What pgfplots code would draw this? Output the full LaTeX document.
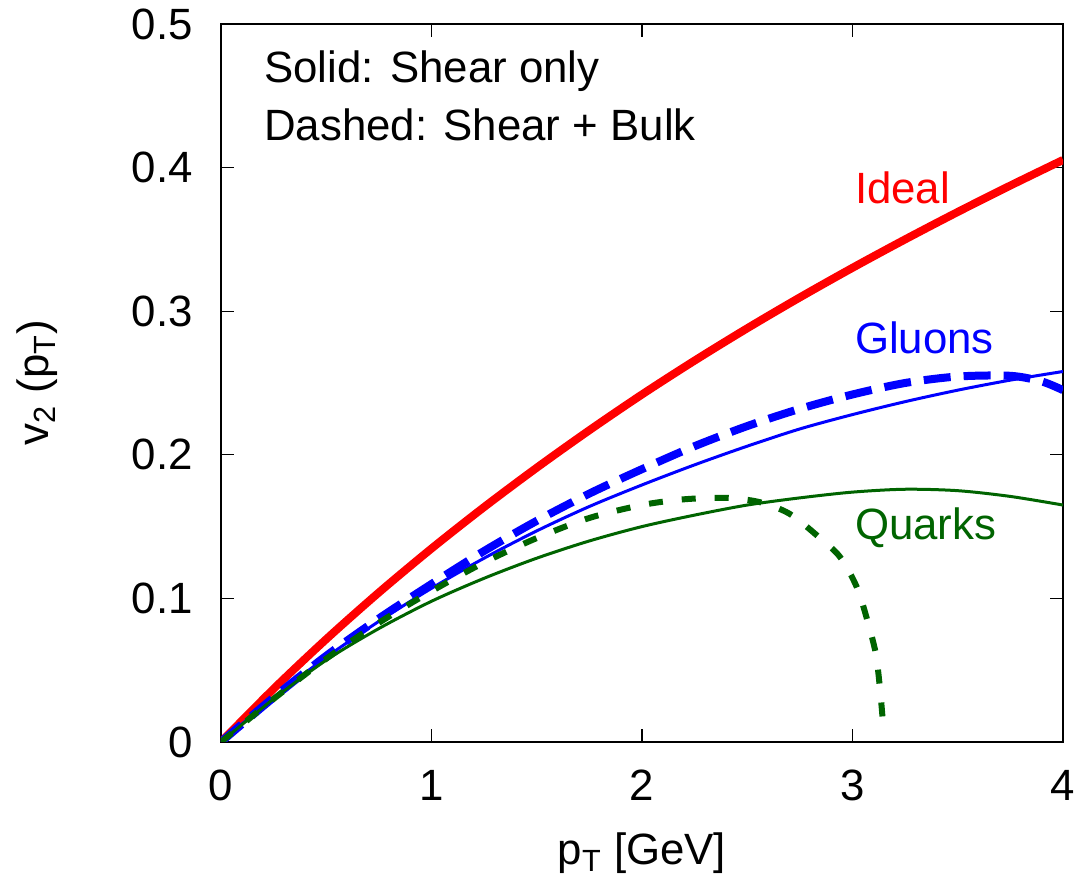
\documentclass[border=0pt]{standalone}
\usepackage{pgfplots}
\pgfplotsset{compat=1.18}
\usepackage{fontspec}
\setmainfont{Liberation Sans}
\definecolor{dgreen}{RGB}{0,100,0}
\newcommand{\ff}{\fontsize{21.9}{26}\selectfont}
\begin{document}
\begin{tikzpicture}
\begin{axis}[
  name=ax,
  scale only axis,
  width=421pt, height=359pt,
  xmin=0, xmax=4, ymin=0, ymax=0.5,
  xtick={0,1,2,3,4},
  ytick={0,0.1,0.2,0.3,0.4,0.5},
  yticklabels={0,0.1,0.2,0.3,0.4,0.5},
  xticklabels={0,1,2,3,4},
  tick align=inside,
  major tick length=6.5pt,
  tick style={black, line width=0.6pt},
  axis line style={line width=1pt},
  xticklabel style={font=\ff, inner sep=0pt, anchor=north, yshift=-14pt},
  yticklabel style={font=\ff, inner sep=0pt, anchor=east, xshift=-14pt},
  xlabel={p\textsubscript{T} [GeV]},
  ylabel={v\textsubscript{2} (p\textsubscript{T})},
  xlabel style={font=\ff, inner sep=0pt, at={(axis description cs:0.5,-0.1713)}, anchor=base},
  ylabel style={font=\ff, inner sep=0pt, at={(axis description cs:-0.218,0.5)}, anchor=center},
  clip=true,
]
% Ideal
\addplot[red, line width=4pt, smooth] coordinates {
(0,0)(0.25,0.0370)(0.5,0.0716)(0.75,0.1041)(1,0.1347)(1.25,0.1636)(1.5,0.1910)(1.75,0.2171)(2,0.2420)(2.25,0.2656)(2.5,0.2881)(2.75,0.3096)(3,0.3302)(3.25,0.3500)(3.5,0.3691)(3.75,0.3875)(4,0.4053)};
% Gluons solid
\addplot[blue, line width=1.5pt, smooth] coordinates {
(0,0)(0.25,0.031)(0.5,0.059)(0.75,0.084)(1,0.107)(1.25,0.128)(1.5,0.147)(1.75,0.164)(2,0.179)(2.25,0.193)(2.5,0.206)(2.75,0.218)(3,0.228)(3.25,0.237)(3.5,0.245)(3.75,0.252)(4,0.258)};
% Gluons dashed
\addplot[blue, line width=4pt, smooth, dash pattern=on 13.5pt off 6.5pt] coordinates {
(0,0)(0.25,0.031)(0.5,0.060)(0.75,0.086)(1,0.110)(1.25,0.133)(1.5,0.154)(1.75,0.173)(2,0.190)(2.25,0.206)(2.5,0.220)(2.75,0.232)(3,0.242)(3.25,0.250)(3.5,0.2545)(3.75,0.255)(3.9,0.251)(4,0.245)};
% Quarks solid
\addplot[dgreen, line width=1.5pt, smooth] coordinates {
(0,0)(0.25,0.030)(0.5,0.057)(0.75,0.079)(1,0.098)(1.25,0.114)(1.5,0.128)(1.75,0.140)(2,0.150)(2.25,0.158)(2.5,0.165)(2.75,0.170)(3,0.174)(3.25,0.176)(3.5,0.175)(3.75,0.171)(4,0.165)};
% Quarks dashed
\addplot[dgreen, line width=3pt, smooth, dash pattern=on 7pt off 9.5pt] coordinates {
(0,0)(0.25,0.030)(0.5,0.058)(0.75,0.083)(1,0.105)(1.25,0.125)(1.5,0.142)(1.75,0.156)(2,0.165)(2.2,0.169)(2.4,0.170)(2.56,0.167)(2.7,0.159)(2.83,0.144)(2.94,0.129)(3.02,0.108)(3.07,0.085)(3.11,0.062)(3.13,0.038)(3.145,0.013)};
\node[anchor=base west, inner sep=0pt, font=\ff] at (axis cs:0.204,0.4596) {Solid: Shear only};
\node[anchor=base west, inner sep=0pt, font=\ff] at (axis cs:0.204,0.419) {Dashed: Shear + Bulk};
\node[anchor=base west, inner sep=0pt, red, font=\ff] at (axis cs:3.01,0.375) {Ideal};
\node[anchor=base west, inner sep=0pt, blue, font=\ff] at (axis cs:3.01,0.2705) {Gluons};
\node[anchor=base west, inner sep=0pt, dgreen, font=\ff] at (axis cs:3.01,0.1407) {Quarks};
\end{axis}
\pgfresetboundingbox
\path (ax.south west) ++(-110.5pt,-68pt) coordinate (bl);
\path (ax.north east) ++(11pt,12pt) coordinate (tr);
\path[use as bounding box] (bl) rectangle (tr);
\end{tikzpicture}
\end{document}
